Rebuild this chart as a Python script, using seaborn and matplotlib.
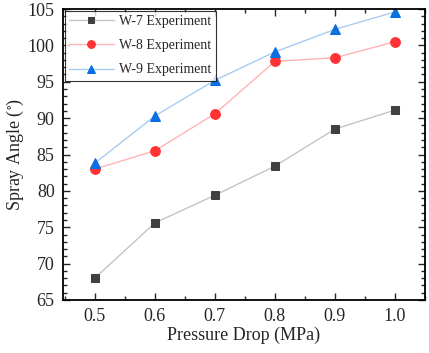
import matplotlib
matplotlib.use("Agg")
import matplotlib.pyplot as plt
import seaborn as sns
import pandas as pd
from matplotlib.ticker import MultipleLocator

pressure = [0.5, 0.6, 0.7, 0.8, 0.9, 1.0]
w7 = [68.0, 75.6, 79.4, 83.4, 88.5, 91.1]
w8 = [83.0, 85.5, 90.6, 97.8, 98.3, 100.5]
w9 = [83.8, 90.3, 95.2, 99.1, 102.2, 104.6]
labels = ["W-7 Experiment", "W-8 Experiment", "W-9 Experiment"]

sns.set_style("ticks")
plt.rcParams['font.family'] = ['Liberation Serif', 'DejaVu Serif']
plt.rcParams['mathtext.fontset'] = 'stix'

df = pd.DataFrame({
    "Pressure": pressure * 3,
    "Angle": w7 + w8 + w9,
    "Series": [labels[0]] * 6 + [labels[1]] * 6 + [labels[2]] * 6,
})

fig = plt.figure(figsize=(4.29, 3.53), dpi=100)
ax = fig.add_axes([63/429, 53/353, 362/429, 291/353])

line_colors = ["#c4c4c4", "#ffb4b4", "#a8ccf0"]
marker_colors = ["#404040", "#ff3333", "#0a6fe0"]
markers = ["s", "o", "^"]
msizes = [5.5, 7, 7.5]

for i, lab in enumerate(labels):
    sub = df[df["Series"] == lab]
    sns.lineplot(data=sub, x="Pressure", y="Angle", ax=ax, color=line_colors[i],
                 lw=1.0, marker=markers[i], markersize=msizes[i],
                 markerfacecolor=marker_colors[i], markeredgecolor=marker_colors[i],
                 label=lab)

ax.set_xlim(0.447, 1.05)
ax.set_ylim(65, 105)
ax.xaxis.set_major_locator(MultipleLocator(0.1))
ax.xaxis.set_minor_locator(MultipleLocator(0.05))
ax.yaxis.set_major_locator(MultipleLocator(5))
ax.yaxis.set_minor_locator(MultipleLocator(1))
ax.set_xticks([0.5, 0.6, 0.7, 0.8, 0.9, 1.0])
ax.set_xticklabels(["0.5", "0.6", "0.7", "0.8", "0.9", "1.0"])
ax.tick_params(which="both", direction="in", top=True, right=True, labelsize=13, width=1.0)
ax.tick_params(which="major", length=5, pad=6)
ax.tick_params(which="minor", length=3)
for s in ax.spines.values():
    s.set_linewidth(1.3)
    s.set_color("black")

ax.set_xlabel("Pressure Drop (MPa)", fontsize=13, labelpad=1)
ax.set_ylabel("Spray Angle ($\\mathregular{^{\\circ}}$)", fontsize=13, labelpad=1)

leg = ax.legend(loc="upper left", fontsize=10, frameon=True, fancybox=False,
                edgecolor="black", borderaxespad=0.15, handlelength=3.2,
                handletextpad=0.4, labelspacing=0.8, markerscale=0.8, borderpad=0.3)
leg.get_frame().set_linewidth(0.8)

fig.savefig("out.png", dpi=100)
